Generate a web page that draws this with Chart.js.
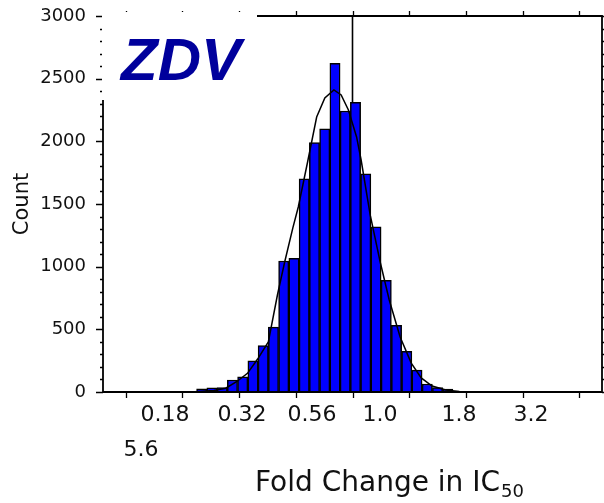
<!DOCTYPE html>
<html>
<head>
<meta charset="utf-8">
<script src="https://cdn.jsdelivr.net/npm/chart.js@4"></script>
<style>
  html, body { margin: 0; padding: 0; background: #fff; }
  #zdv { display: block; }
</style>
</head>
<body>
<canvas id="zdv" width="604" height="503"></canvas>
<script>
// histogram bins, x in log10(fold change)
const binStartLog = -0.6874;
const binWidthLog = 0.0452;
const binCounts = [26, 34, 36, 96, 122, 249, 370, 518, 1045, 1067, 1700, 1990, 2100,
  2623, 2242, 2311, 1740, 1317, 890, 532, 325, 174, 64, 36, 24];

// fitted curve
const curveLog = [-0.711, -0.611, -0.559, -0.511, -0.463, -0.419, -0.371, -0.331, -0.299,
  -0.263, -0.239, -0.198, -0.158, -0.122, -0.082, -0.050, -0.018, 0.018, 0.038, 0.078,
  0.122, 0.162, 0.210, 0.259, 0.303, 0.351, 0.411, 0.471];
const curveCount = [0, 12, 30, 82, 149, 261, 399, 774, 1037, 1309, 1476, 1835, 2194, 2346,
  2410, 2370, 2250, 2035, 1851, 1413, 1037, 734, 439, 231, 112, 48, 16, 4];

const xTickLog = [-1, -0.75, -0.5, -0.25, 0, 0.25, 0.5, 0.75, 1];
const xTickLabels = ['0.18', '0.32', '0.56', '1.0', '1.8', '3.2', '5.6'];
const yTicks = [0, 500, 1000, 1500, 2000, 2500, 3000];
const cutoffLog = 0;
const drugName = 'ZDV';

const barData = binCounts.map((c, i) => ({ x: binStartLog + binWidthLog * (i + 0.5), y: c }));
const curveData = curveLog.map((v, i) => ({ x: v, y: curveCount[i] }));

const FONT = '"DejaVu Sans", sans-serif';

const axesPlugin = {
  id: 'axes',
  afterDatasetsDraw(chart) {
    const { ctx, chartArea: a, scales: { x, y } } = chart;
    ctx.save();
    ctx.strokeStyle = '#000';
    ctx.lineWidth = 1.8;
    ctx.beginPath();
    ctx.rect(a.left, a.top, a.right - a.left, a.bottom - a.top);
    ctx.stroke();

    // y ticks, minor every 100
    ctx.lineWidth = 1.3;
    ctx.beginPath();
    for (let v = 0; v <= 3000; v += 100) {
      const py = Math.round(y.getPixelForValue(v)) + 0.5;
      const len = v % 500 === 0 ? 7 : 3;
      ctx.moveTo(a.left, py); ctx.lineTo(a.left - len, py);
      ctx.moveTo(a.right, py); ctx.lineTo(a.right + len, py);
    }
    xTickLog.forEach(v => {
      const px = Math.round(x.getPixelForValue(v)) + 0.5;
      ctx.moveTo(px, a.bottom); ctx.lineTo(px, a.bottom + 6);
      ctx.moveTo(px, a.top); ctx.lineTo(px, a.top - 5);
    });
    ctx.stroke();

    ctx.fillStyle = '#111';
    ctx.font = '18px ' + FONT;
    ctx.textAlign = 'right';
    ctx.textBaseline = 'middle';
    yTicks.forEach(v => ctx.fillText(String(v), a.left - 17, y.getPixelForValue(v)));

    // x labels, laid out as a wrapped line of text like the original
    ctx.font = '22px ' + FONT;
    ctx.textAlign = 'center';
    const row1 = [165, 242, 312, 380, 459, 531];
    xTickLabels.forEach((t, i) => {
      if (i < row1.length) ctx.fillText(t, row1[i], a.bottom + 23);
      else ctx.fillText(t, 141, a.bottom + 58);
    });

    ctx.font = '28px ' + FONT;
    ctx.textAlign = 'left';
    ctx.textBaseline = 'alphabetic';
    const title = 'Fold Change in IC';
    ctx.fillText(title, 255, 491);
    const w = ctx.measureText(title).width;
    ctx.font = '18px ' + FONT;
    ctx.fillText('50', 255 + w + 1, 497);

    ctx.save();
    ctx.translate(23, 204);
    ctx.rotate(-Math.PI / 2);
    ctx.font = '21px ' + FONT;
    ctx.textAlign = 'center';
    ctx.textBaseline = 'middle';
    ctx.fillText('Count', 0, 0);
    ctx.restore();

    // label box over the top-left corner
    ctx.fillStyle = '#fff';
    ctx.fillRect(a.left - 1, 12, 155, a.top + 84 - 12);
    ctx.fillStyle = '#00009c';
    ctx.font = 'italic bold 60px "Liberation Sans", Arial, sans-serif';
    ctx.textAlign = 'left';
    ctx.fillText(drugName, 121, 80);
    ctx.restore();
  }
};

new Chart(document.getElementById('zdv'), {
  data: {
    datasets: [
      {
        type: 'line',
        data: [{ x: cutoffLog, y: 0 }, { x: cutoffLog, y: 3000 }],
        borderColor: '#000',
        borderWidth: 1.6,
        pointRadius: 0,
        order: 3
      },
      {
        type: 'bar',
        data: barData,
        backgroundColor: '#0000ff',
        borderColor: '#000',
        borderWidth: 1.5,
        barPercentage: 1,
        categoryPercentage: 1,
        order: 2
      },
      {
        type: 'line',
        data: curveData,
        borderColor: '#000',
        borderWidth: 1.5,
        pointRadius: 0,
        tension: 0,
        order: 1
      }
    ]
  },
  options: {
    responsive: false,
    animation: false,
    devicePixelRatio: 1,
    layout: { padding: { left: 103, top: 16, right: 2, bottom: 111 } },
    plugins: { legend: { display: false }, tooltip: { enabled: false } },
    scales: {
      x: { type: 'linear', min: -1, max: 1, display: false },
      y: { type: 'linear', min: 0, max: 3000, display: false }
    }
  },
  plugins: [axesPlugin]
});
</script>
</body>
</html>
